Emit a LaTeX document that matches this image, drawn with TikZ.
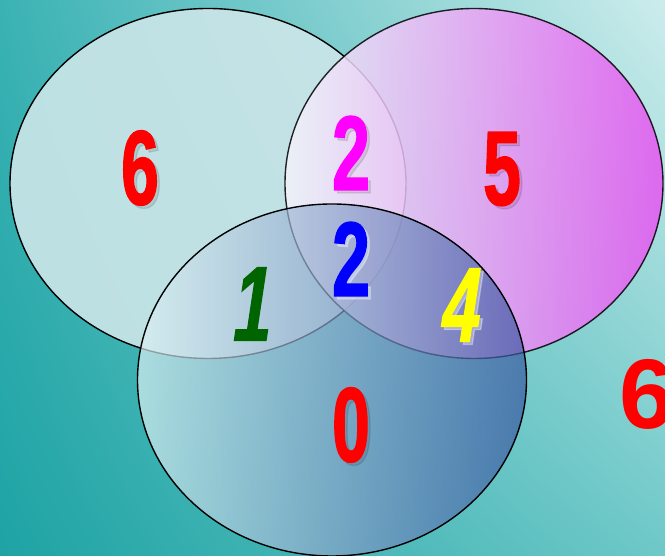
\documentclass[tikz,border=0pt]{standalone}
\usepackage{fontspec}
\usepackage{tikz}
\usetikzlibrary{positioning, shadings}
\newfontfamily\condfam{Liberation Sans}[FakeStretch=0.64,FakeBold=1.2]
\newfontfamily\condslant{Liberation Sans}[FakeStretch=0.64,FakeSlant=0.15,FakeBold=1.2]
\newfontfamily\widefam{Liberation Sans}
\definecolor{bgTL}{RGB}{58,178,180}
\definecolor{bgTR}{RGB}{205,236,236}
\definecolor{bgBL}{RGB}{30,163,164}
\definecolor{bgBR}{RGB}{110,200,200}
\definecolor{setA}{RGB}{204,230,233}
\definecolor{setBl}{RGB}{242,244,250}
\definecolor{setBr}{RGB}{229,85,241}
\definecolor{setCl}{RGB}{222,242,244}
\definecolor{setCr}{RGB}{55,85,160}
\definecolor{numred}{RGB}{255,0,0}
\definecolor{numpink}{RGB}{255,0,255}
\definecolor{numblue}{RGB}{0,0,255}
\definecolor{numgreen}{RGB}{0,100,0}
\definecolor{numyellow}{RGB}{255,255,0}

\begin{document}
\begin{tikzpicture}[x=1pt, y=1pt,
  num/.style={inner sep=0pt, font=\condfam\bfseries\fontsize{106}{106}\selectfont},
  numslant/.style={inner sep=0pt, font=\condslant\bfseries\fontsize{106}{106}\selectfont},
  shadow/.style={text=black, opacity=0.1},
  glow/.style={text=white, opacity=0.35},
  setline/.style={draw=black, line width=1.4pt}]
  % background
  \shade[lower left=bgBL, lower right=bgBR, upper left=bgTL, upper right=bgTR]
    (0,0) rectangle (665,556);
  \useasboundingbox (0,0) rectangle (665,556);
  % the three sets
  \fill[setA, opacity=0.9] (208,372.5) ellipse [x radius=198, y radius=175];
  \draw[setline] (208,372.5) ellipse [x radius=198, y radius=175];
  \shade[left color=setBl, right color=setBr, opacity=0.85] (474,372.5) ellipse [x radius=189, y radius=175];
  \draw[setline, opacity=0.85] (474,372.5) ellipse [x radius=189, y radius=175];
  \shade[left color=setCl, right color=setCr, opacity=0.68] (332,176) ellipse [x radius=194.5, y radius=176];
  \draw[setline] (332,176) ellipse [x radius=194.5, y radius=176];
  % shadows
  \node[num, shadow] at (143,385) {6};
  \node[num, shadow] at (354,400) {2};
  \node[num, shadow] at (505,384) {5};
  \node[num, glow] at (354,294) {2};
  \node[numslant, glow] at (460,248) {4};
  \node[num, shadow] at (354,128) {0};
  % counts
  \node[num, text=numred] (sixA) at (140,388) {6};
  \node[num, text=numpink] (twoAB) at (351,403) {2};
  \node[num, text=numred] (fiveB) at (502,387) {5};
  \node[num, text=numblue] (twoABC) at (351,297) {2};
  \node[numslant, text=numgreen] (oneAC) at (249,252) {1};
  \node[numslant, text=numyellow] (fourBC) at (457,251) {4};
  \node[num, text=numred] (zeroC) at (351,131) {0};
  \node[inner sep=0pt, anchor=west, text=numred, font=\widefam\bfseries\fontsize{99}{99}\selectfont] (sixU) at (619,162) {6};
\end{tikzpicture}
\end{document}
